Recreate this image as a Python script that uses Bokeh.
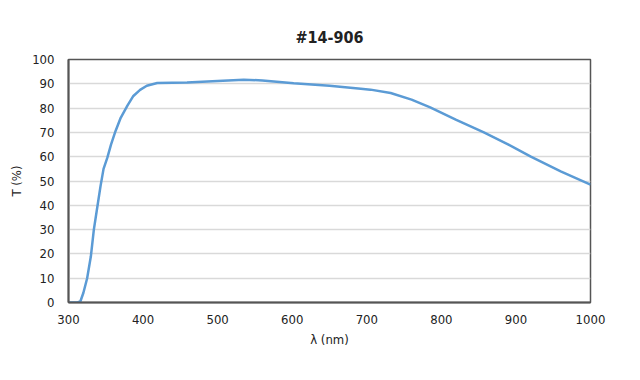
from bokeh.plotting import figure
from bokeh.embed import file_html
from bokeh.resources import INLINE
from bokeh.models import FixedTicker

wavelength = [300, 312, 316, 320, 325, 330, 334, 339, 343, 347, 352, 357, 363, 370, 379, 387, 396, 405, 419, 459, 500, 535, 560, 602, 650, 692, 705, 732, 760, 785, 820, 857, 890, 920, 960, 1000]
transmission = [0, 0, 0.5, 4, 10, 19, 30, 40, 48, 55, 59.5, 65, 70.5, 76, 81, 85, 87.5, 89.2, 90.3, 90.5, 91.2, 91.7, 91.4, 90.2, 89.2, 88, 87.6, 86.2, 83.5, 80.3, 75.2, 70, 65, 60, 54, 48.5]

x_ticks = [300, 400, 500, 600, 700, 800, 900, 1000]
y_ticks = [0, 10, 20, 30, 40, 50, 60, 70, 80, 90, 100]

FONT = "DejaVu Sans Condensed"

p = figure(width=632, height=372, x_range=(300, 1000), y_range=(0, 100),
           output_backend="svg", toolbar_location=None, title="#14-906",
           min_border_left=68, min_border_right=42, min_border_top=59, min_border_bottom=70)

p.title.align = "center"
p.title.text_font = FONT
p.title.text_font_size = "16px"
p.title.text_font_style = "bold"
p.title.text_color = "#222222"
p.title.standoff = 26

p.line(wavelength, transmission, line_color="#5B9BD5", line_width=2.5)

p.outline_line_color = "#555555"
p.outline_line_width = 1.5

for ax in (p.xaxis[0], p.yaxis[0]):
    ax.axis_line_color = "#555555"
    ax.axis_line_width = 2
    ax.major_tick_line_color = None
    ax.minor_tick_line_color = None
    ax.major_label_text_font = FONT
    ax.major_label_text_font_size = "13px"
    ax.major_label_text_color = "#222222"
    ax.axis_label_text_font = FONT
    ax.axis_label_text_font_size = "13px"
    ax.axis_label_text_font_style = "normal"
    ax.axis_label_text_color = "#222222"

p.xaxis.ticker = FixedTicker(ticks=x_ticks)
p.yaxis.ticker = FixedTicker(ticks=y_ticks)
p.xaxis.axis_label = "λ (nm)"
p.yaxis.axis_label = "T (%)"
p.xaxis.major_label_standoff = 6
p.yaxis.major_label_standoff = 8

p.xgrid.grid_line_color = None
p.ygrid.grid_line_color = "#d9d9d9"
p.ygrid.grid_line_width = 1.5

open("out.html", "w").write(file_html(p, INLINE))
